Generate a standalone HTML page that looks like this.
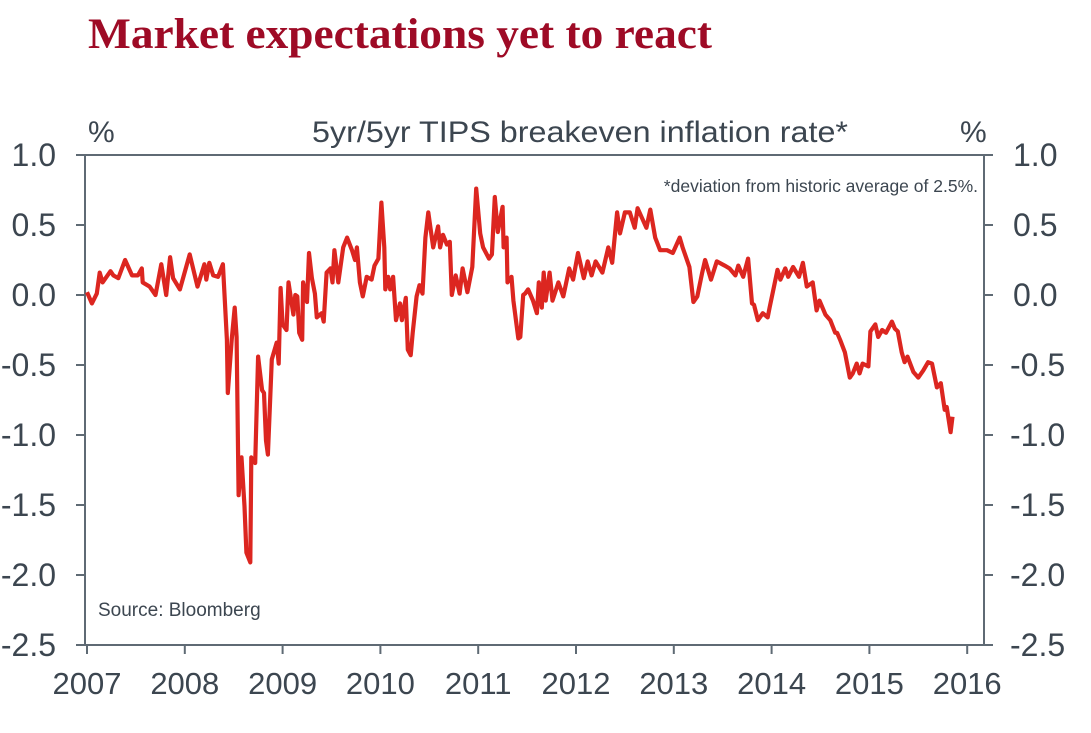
<!DOCTYPE html>
<html><head><meta charset="utf-8"><style>
html,body{margin:0;padding:0;background:#fff;}
svg{display:block;font-family:"Liberation Sans",sans-serif;}
</style></head><body>
<svg id="chart" width="1091" height="733">
<text x="88" y="48" font-family="Liberation Serif,serif" font-weight="bold" font-size="43" fill="#9e0b26" textLength="624" lengthAdjust="spacingAndGlyphs">Market expectations yet to react</text>
<text x="580" y="142" text-anchor="middle" font-size="30" fill="#3c4650" textLength="536" lengthAdjust="spacingAndGlyphs">5yr/5yr TIPS breakeven inflation rate*</text>
<text x="88" y="142" font-size="30" fill="#3c4650">%</text>
<text x="960" y="142" font-size="30" fill="#3c4650">%</text>
<rect x="85" y="155" width="899" height="490" fill="none" stroke="#5f6a74" stroke-width="2"/>
<text x="978" y="192" text-anchor="end" font-size="17.5" fill="#3c4650">*deviation from historic average of 2.5%.</text>
<text x="98" y="616" font-size="19" fill="#3c4650">Source: Bloomberg</text>
<g id="axes"></g>
<path id="line" fill="none" stroke="#dc2620" stroke-width="4.2" stroke-linejoin="round"/>
</svg>
<script>
const yTicks=[1.0,0.5,0.0,-0.5,-1.0,-1.5,-2.0,-2.5];
const yTickLabels=["1.0","0.5","0.0","-0.5","-1.0","-1.5","-2.0","-2.5"];
const xTicks=[2007,2008,2009,2010,2011,2012,2013,2014,2015,2016];
const dates=[2007.00,2007.05,2007.10,2007.13,2007.16,2007.24,2007.27,2007.32,2007.39,2007.46,2007.52,2007.56,2007.57,2007.64,2007.70,2007.76,2007.81,2007.85,2007.88,2007.95,2008.05,2008.13,2008.20,2008.22,2008.25,2008.29,2008.34,2008.39,2008.43,2008.44,2008.48,2008.51,2008.53,2008.55,2008.58,2008.61,2008.63,2008.67,2008.68,2008.72,2008.75,2008.79,2008.81,2008.83,2008.85,2008.89,2008.94,2008.96,2008.98,2009.00,2009.04,2009.06,2009.11,2009.13,2009.15,2009.17,2009.20,2009.21,2009.25,2009.27,2009.30,2009.33,2009.35,2009.40,2009.42,2009.45,2009.49,2009.51,2009.53,2009.57,2009.62,2009.66,2009.71,2009.74,2009.76,2009.79,2009.82,2009.86,2009.91,2009.94,2009.98,2010.01,2010.04,2010.05,2010.08,2010.10,2010.13,2010.16,2010.20,2010.22,2010.26,2010.28,2010.31,2010.33,2010.37,2010.40,2010.43,2010.46,2010.49,2010.54,2010.59,2010.61,2010.64,2010.68,2010.71,2010.73,2010.77,2010.81,2010.84,2010.89,2010.94,2010.98,2011.02,2011.05,2011.11,2011.14,2011.17,2011.20,2011.25,2011.26,2011.29,2011.30,2011.34,2011.36,2011.41,2011.43,2011.46,2011.48,2011.51,2011.56,2011.60,2011.62,2011.65,2011.67,2011.69,2011.73,2011.76,2011.82,2011.87,2011.93,2011.97,2012.02,2012.08,2012.12,2012.16,2012.20,2012.27,2012.33,2012.37,2012.42,2012.45,2012.50,2012.55,2012.60,2012.63,2012.72,2012.76,2012.81,2012.86,2012.93,2012.99,2013.06,2013.09,2013.16,2013.20,2013.24,2013.29,2013.32,2013.38,2013.44,2013.52,2013.57,2013.63,2013.66,2013.71,2013.76,2013.80,2013.82,2013.86,2013.91,2013.96,2013.98,2014.06,2014.09,2014.14,2014.17,2014.22,2014.28,2014.32,2014.36,2014.42,2014.46,2014.49,2014.55,2014.60,2014.65,2014.67,2014.70,2014.75,2014.80,2014.83,2014.87,2014.90,2014.93,2014.99,2015.01,2015.06,2015.09,2015.13,2015.17,2015.23,2015.26,2015.29,2015.33,2015.36,2015.39,2015.45,2015.50,2015.55,2015.60,2015.64,2015.69,2015.73,2015.77,2015.79,2015.83,2015.85];
const values=[0.02,-0.06,0.01,0.16,0.09,0.17,0.14,0.12,0.25,0.14,0.14,0.19,0.09,0.06,0.00,0.22,0.00,0.27,0.12,0.04,0.29,0.06,0.22,0.11,0.23,0.14,0.13,0.22,-0.32,-0.70,-0.32,-0.09,-0.30,-1.43,-1.16,-1.51,-1.84,-1.91,-1.16,-1.20,-0.44,-0.68,-0.70,-1.04,-1.14,-0.46,-0.34,-0.49,0.05,-0.21,-0.25,0.09,-0.14,0.00,-0.01,-0.27,-0.32,0.09,-0.05,0.30,0.12,0.01,-0.16,-0.13,-0.19,0.16,0.19,0.09,0.32,0.09,0.34,0.41,0.32,0.25,0.34,0.09,-0.01,0.13,0.11,0.21,0.26,0.66,0.34,0.04,0.13,0.04,0.13,-0.18,-0.06,-0.18,-0.02,-0.39,-0.43,-0.27,-0.01,0.07,0.01,0.41,0.59,0.34,0.49,0.34,0.43,0.36,0.38,0.00,0.14,0.01,0.19,0.02,0.20,0.76,0.44,0.34,0.26,0.29,0.70,0.45,0.63,0.34,0.41,0.09,0.13,-0.04,-0.31,-0.30,0.00,0.01,0.04,-0.04,-0.13,0.09,-0.09,0.16,-0.04,0.16,-0.04,0.09,-0.01,0.19,0.11,0.30,0.12,0.24,0.14,0.24,0.16,0.34,0.23,0.59,0.44,0.59,0.59,0.48,0.62,0.48,0.61,0.41,0.32,0.32,0.30,0.41,0.34,0.20,-0.05,-0.01,0.16,0.25,0.11,0.24,0.21,0.19,0.14,0.21,0.13,0.26,-0.06,-0.07,-0.18,-0.13,-0.16,-0.09,0.18,0.11,0.19,0.13,0.20,0.13,0.23,0.06,0.09,-0.11,-0.04,-0.14,-0.18,-0.27,-0.27,-0.32,-0.41,-0.59,-0.56,-0.49,-0.56,-0.49,-0.51,-0.26,-0.21,-0.30,-0.25,-0.27,-0.19,-0.24,-0.26,-0.41,-0.48,-0.44,-0.55,-0.59,-0.54,-0.48,-0.49,-0.66,-0.63,-0.82,-0.80,-0.98,-0.87,-0.74];

const xS=t=>87+(t-2007)*97.8;
const yS=v=>295-v*140;
const NS="http://www.w3.org/2000/svg";
const axes=document.getElementById('axes');
function mk(tag,attrs,txt){const e=document.createElementNS(NS,tag);for(const k in attrs)e.setAttribute(k,attrs[k]);if(txt!==undefined)e.textContent=txt;axes.appendChild(e);return e;}
yTicks.forEach((v,i)=>{
  const y=yS(v);
  const t1=mk('line',{x1:76,x2:85,y1:y,y2:y,stroke:'#5f6a74','stroke-width':2});
  
  
  const t2=mk('line',{x1:984,x2:993,y1:y,y2:y,stroke:'#5f6a74','stroke-width':2});
  
  
  const l1=mk('text',{x:56,y:y+11,'text-anchor':'end','font-size':32,fill:'#3c4650'},yTickLabels[i]);
  
  
  const l2=mk('text',{x:v<0?1010:1013,y:y+11,'font-size':32,fill:'#3c4650'},yTickLabels[i]);
  
  
});
xTicks.forEach(t=>{
  const x=xS(t);
  const tk=mk('line',{x1:x,x2:x,y1:645,y2:654,stroke:'#5f6a74','stroke-width':2});
  
  
  const l=mk('text',{x:x,y:694,'text-anchor':'middle','font-size':31,fill:'#3c4650'},String(t));
  
  
});
let d='';
dates.forEach((t,i)=>{d+=(i?'L':'M')+xS(t).toFixed(1)+' '+yS(values[i]).toFixed(1);});
document.getElementById('line').setAttribute('d',d);
</script>
</body></html>
